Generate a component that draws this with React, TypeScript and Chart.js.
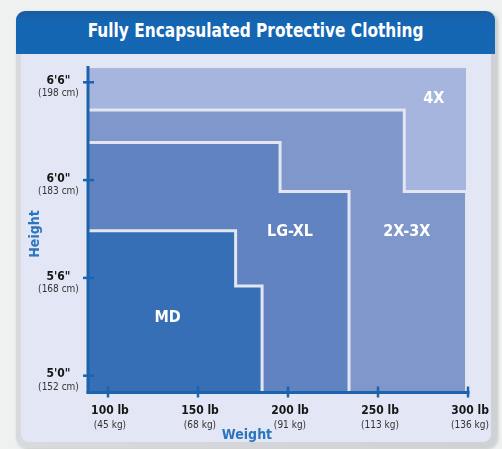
import React, { useEffect, useRef } from 'react';
import { Chart, registerables } from 'chart.js';

Chart.register(...registerables);

// ---- data (weight in lb, height in inches) ----
const sizeNames = ['MD', 'LG-XL', '2X-3X', '4X'];
const mdWeights = [170.9, 185.6];
const mdHeights = [68.9, 65.5];
const lgWeights = [195.6, 233.9];
const lgHeights = [74.3, 71.3];
const xxWeights = [264.6, 299.2];
const xxHeights = [76.3, 71.3];
const x4Weights = [299.2];
const x4Heights = [78.9];
const labelWeights = [133.1, 201.1, 266, 281];
const labelHeights = [63.55, 68.83, 68.83, 77.0];
const fillColors = ['#366fb5', '#6283c2', '#8097cc', '#a6b5dd'];

const weightTicks = [100, 150, 200, 250, 300];
const weightLabels = ['100 lb', '150 lb', '200 lb', '250 lb', '300 lb'];
const weightSubLabels = ['(45 kg)', '(68 kg)', '(91 kg)', '(113 kg)', '(136 kg)'];
const heightTicks = [60, 66, 72, 78];
const heightLabels = ['5\'0"', '5\'6"', '6\'0"', '6\'6"'];
const heightSubLabels = ['(152 cm)', '(168 cm)', '(183 cm)', '(198 cm)'];

const weightMin = 88.9;
const weightMax = 300;
const heightMin = 59;
const heightMax = 79;

const FONT = "'DejaVu Sans Condensed', 'Liberation Sans Narrow', 'DejaVu Sans', sans-serif";
const AXIS = '#1b63ad';

function outline(ws: number[], hs: number[]) {
  const pts: { x: number; y: number }[] = [{ x: weightMin, y: hs[0] }];
  for (let i = 0; i < ws.length; i++) {
    pts.push({ x: ws[i], y: hs[i] });
    if (i + 1 < hs.length) pts.push({ x: ws[i], y: hs[i + 1] });
  }
  pts.push({ x: ws[ws.length - 1], y: heightMin });
  return pts;
}

const overlay = {
  id: 'overlay',
  afterDraw(chart: any) {
    const { ctx, chartArea } = chart;
    const xs = chart.scales.x;
    const ys = chart.scales.y;
    const ax = chartArea.left;
    const ay = chartArea.bottom;
    ctx.save();
    ctx.strokeStyle = AXIS;
    // axis lines
    ctx.lineWidth = 3;
    ctx.beginPath();
    ctx.moveTo(ax, chartArea.top);
    ctx.lineTo(ax, ay + 1.5);
    ctx.stroke();
    ctx.beginPath();
    ctx.moveTo(ax - 1.5, ay + 0.5);
    ctx.lineTo(chartArea.right + 1.5, ay + 0.5);
    ctx.stroke();
    // tick marks
    ctx.lineWidth = 2.5;
    heightTicks.forEach((v) => {
      const py = ys.getPixelForValue(v);
      ctx.beginPath();
      ctx.moveTo(ax - 5, py);
      ctx.lineTo(ax + 6, py);
      ctx.stroke();
    });
    weightTicks.forEach((v) => {
      const px = xs.getPixelForValue(v);
      ctx.beginPath();
      ctx.moveTo(px, ay - 5.5);
      ctx.lineTo(px, ay + 5.5);
      ctx.stroke();
    });
    ctx.textAlign = 'center';
    ctx.textBaseline = 'middle';
    heightTicks.forEach((v, i) => {
      const py = ys.getPixelForValue(v);
      ctx.fillStyle = '#151515';
      ctx.font = `bold 12px ${FONT}`;
      ctx.fillText(heightLabels[i], ax - 29.5, py - 1.5);
      ctx.fillStyle = '#333';
      ctx.font = `10px ${FONT}`;
      ctx.fillText(heightSubLabels[i], ax - 29.5, py + 11.5);
    });
    weightTicks.forEach((v, i) => {
      const px = xs.getPixelForValue(v) + 2;
      ctx.fillStyle = '#151515';
      ctx.font = `bold 12px ${FONT}`;
      ctx.fillText(weightLabels[i], px, ay + 19);
      ctx.fillStyle = '#333';
      ctx.font = `10px ${FONT}`;
      ctx.fillText(weightSubLabels[i], px, ay + 33);
    });
    ctx.fillStyle = '#ffffff';
    ctx.font = `bold 16px ${FONT}`;
    sizeNames.forEach((n, i) => {
      ctx.fillText(n, xs.getPixelForValue(labelWeights[i]), ys.getPixelForValue(labelHeights[i]));
    });
    ctx.fillStyle = '#2c74bd';
    ctx.font = `bold 14px ${FONT}`;
    ctx.fillText('Weight', 247, ay + 43);
    ctx.translate(35, 234);
    ctx.rotate(-Math.PI / 2);
    ctx.fillText('Height', 0, 0);
    ctx.restore();
  },
};

export default function App() {
  const ref = useRef<HTMLCanvasElement>(null);
  useEffect(() => {
    if (!ref.current) return;
    const series = [
      outline(mdWeights, mdHeights),
      outline(lgWeights, lgHeights),
      outline(xxWeights, xxHeights),
      outline(x4Weights, x4Heights),
    ];
    const chart = new Chart(ref.current, {
      type: 'line',
      data: {
        datasets: series.map((pts, i) => ({
          label: sizeNames[i],
          data: pts,
          fill: 'start',
          backgroundColor: fillColors[i],
          borderColor: '#e2e6f0',
          borderWidth: i === 3 ? 1 : 3,
          pointRadius: 0,
          tension: 0,
        })),
      },
      options: {
        animation: false,
        responsive: false,
        events: [],
        layout: { padding: { left: 88, top: 66, right: 34, bottom: 57 } },
        plugins: { legend: { display: false }, tooltip: { enabled: false } },
        scales: {
          x: {
            type: 'linear',
            min: weightMin,
            max: weightMax,
            ticks: { display: false },
            grid: { display: false, drawTicks: false },
            border: { display: false },
            afterFit: (s: any) => { s.height = 0; },
          },
          y: {
            type: 'linear',
            min: heightMin,
            max: heightMax,
            ticks: { display: false },
            grid: { display: false, drawTicks: false },
            border: { display: false },
            afterFit: (s: any) => { s.width = 0; },
          },
        },
      },
      plugins: [overlay],
    } as any);
    return () => chart.destroy();
  }, []);

  return (
    <div style={{ position: 'fixed', left: 0, top: 0, width: 502, height: 449, background: '#eff0f0', overflow: 'hidden' }}>
      <div style={{ position: 'absolute', left: 16, top: 11, width: 481, height: 437, borderRadius: 11, background: 'linear-gradient(90deg, #d8dadd, #cfd1d5)', boxShadow: '1px 1px 3px rgba(0,0,0,0.18)' }}>
        <div style={{ position: 'absolute', left: 5, top: 43, right: 6, bottom: 6, background: '#e3e7f5', borderRadius: '0 0 8px 8px' }} />
        <div style={{ position: 'absolute', left: 0, top: 0, width: 479, height: 43, borderRadius: '9px 9px 0 0', background: 'linear-gradient(180deg, #1a5ca3 0%, #1566b2 25%, #1467b3 100%)', color: '#fff', fontFamily: FONT, fontWeight: 'bold', fontSize: 19, textAlign: 'center', lineHeight: '39px' }}>
          <span style={{ display: 'inline-block', transform: 'scaleX(0.9)', whiteSpace: 'nowrap' }}>Fully Encapsulated Protective Clothing</span>
        </div>
      </div>
      <canvas ref={ref} width={502} height={449} style={{ position: 'absolute', left: 0, top: 0, width: 502, height: 449 }} />
    </div>
  );
}
